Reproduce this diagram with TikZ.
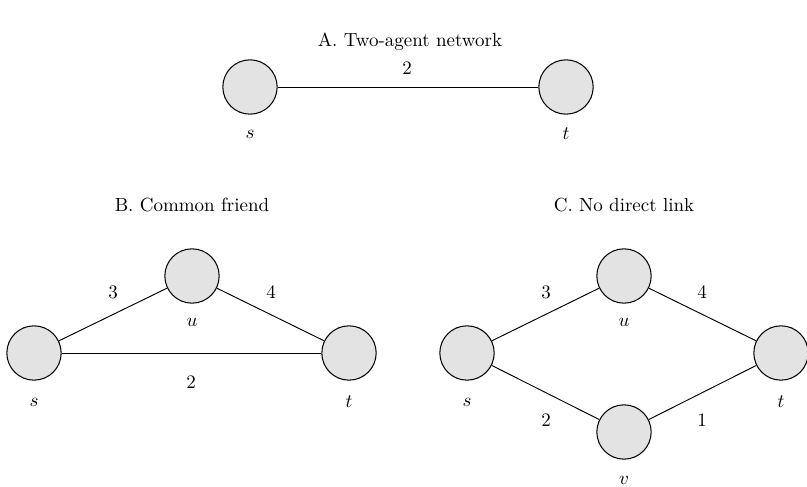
\documentclass[tikz,border=0pt]{standalone}
\begin{document}
\begin{tikzpicture}[x=0.5263pt,y=-0.5263pt,
  agent/.style={circle,draw=black,line width=0.55pt,fill=gray!22,minimum size=28.6pt,inner sep=0pt},
  edge/.style={draw=black,line width=0.5pt},
  lab/.style={inner sep=0pt,font=\normalsize},
  ttl/.style={inner sep=0pt}]
\useasboundingbox (0,0) rectangle (807,487);
% Panel A
\node[ttl] (ta) at (410,42) {A. Two-agent network};
\node[agent] (as) at (250,87) {};
\node[agent] (at) at (566,87) {};
\node[lab] (asl) at (250,134) {$s$};
\node[lab] (atl) at (566,134) {$t$};
\draw[edge] (as) -- (at);
\node[lab] (aw) at (407,68) {2};
% Panel B
\node[ttl] (tb) at (192,205) {B. Common friend};
\node[agent] (bs) at (34,353) {};
\node[agent] (bu) at (192,276) {};
\node[agent] (bt) at (349,353) {};
\node[lab] (bsl) at (34,402) {$s$};
\node[lab] (bul) at (192,322) {$u$};
\node[lab] (btl) at (349,402) {$t$};
\draw[edge] (bs) -- (bu);
\draw[edge] (bu) -- (bt);
\draw[edge] (bs) -- (bt);
\node[lab] (bw1) at (113,292) {3};
\node[lab] (bw2) at (271,292) {4};
\node[lab] (bw3) at (191,382) {2};
% Panel C
\node[ttl] (tc) at (624,205) {C. No direct link};
\node[agent] (cs) at (467,353) {};
\node[agent] (cu) at (624,276) {};
\node[agent] (ct) at (781,353) {};
\node[agent] (cv) at (624,432) {};
\node[lab] (csl) at (467,402) {$s$};
\node[lab] (cul) at (624,322) {$u$};
\node[lab] (ctl) at (781,402) {$t$};
\node[lab] (cvl) at (624,480) {$v$};
\draw[edge] (cs) -- (cu);
\draw[edge] (cu) -- (ct);
\draw[edge] (cs) -- (cv);
\draw[edge] (cv) -- (ct);
\node[lab] (cw1) at (546,292) {3};
\node[lab] (cw2) at (702,292) {4};
\node[lab] (cw3) at (546,420) {2};
\node[lab] (cw4) at (702,420) {1};
\end{tikzpicture}
\end{document}
